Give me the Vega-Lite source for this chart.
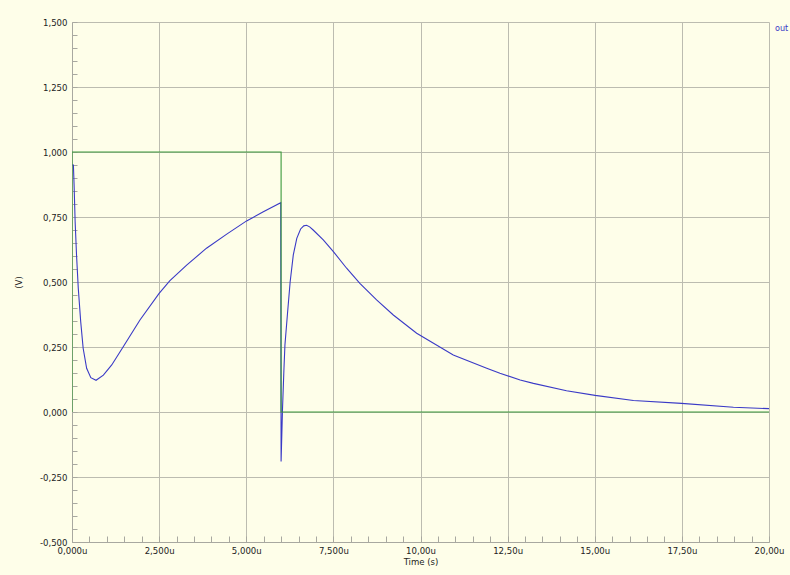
{
  "$schema": "https://vega.github.io/schema/vega-lite/v6.json",
  "width": 697,
  "height": 520,
  "autosize": {"type": "none"},
  "padding": {"left": 72, "top": 22, "right": 21, "bottom": 33},
  "background": "#fefee9",
  "config": {
    "view": {"stroke": null},
    "font": "Liberation Sans Narrow, DejaVu Sans Condensed, Liberation Sans, sans-serif",
    "axis": {
      "domainColor": "#a8a8a0",
      "tickColor": "#a8a8a0",
      "gridColor": "#bcbcb0",
      "gridWidth": 1,
      "labelColor": "#222222",
      "labelFont": "Liberation Sans Narrow, DejaVu Sans Condensed, Liberation Sans, sans-serif",
      "labelFontSize": 9.5,
      "titleFont": "Liberation Sans Narrow, DejaVu Sans Condensed, Liberation Sans, sans-serif",
      "titleFontSize": 9.5,
      "titleFontWeight": "normal",
      "titleColor": "#222222",
      "labelOverlap": false,
      "labelFlush": false,
      "labelBound": false
    }
  },
  "data": {
    "values": [
      {"i": 0, "s": "out", "t": 0.0, "v": 0.95},
      {"i": 1, "s": "out", "t": 0.04, "v": 0.95},
      {"i": 2, "s": "out", "t": 0.06, "v": 0.873},
      {"i": 3, "s": "out", "t": 0.09, "v": 0.732},
      {"i": 4, "s": "out", "t": 0.13, "v": 0.604},
      {"i": 5, "s": "out", "t": 0.18, "v": 0.476},
      {"i": 6, "s": "out", "t": 0.25, "v": 0.347},
      {"i": 7, "s": "out", "t": 0.32, "v": 0.245},
      {"i": 8, "s": "out", "t": 0.42, "v": 0.168},
      {"i": 9, "s": "out", "t": 0.54, "v": 0.132},
      {"i": 10, "s": "out", "t": 0.69, "v": 0.122},
      {"i": 11, "s": "out", "t": 0.9, "v": 0.142},
      {"i": 12, "s": "out", "t": 1.14, "v": 0.181},
      {"i": 13, "s": "out", "t": 1.47, "v": 0.251},
      {"i": 14, "s": "out", "t": 1.95, "v": 0.354},
      {"i": 15, "s": "out", "t": 2.5, "v": 0.456},
      {"i": 16, "s": "out", "t": 2.81, "v": 0.505},
      {"i": 17, "s": "out", "t": 3.29, "v": 0.565},
      {"i": 18, "s": "out", "t": 3.86, "v": 0.63},
      {"i": 19, "s": "out", "t": 4.44, "v": 0.684},
      {"i": 20, "s": "out", "t": 5.01, "v": 0.735},
      {"i": 21, "s": "out", "t": 5.49, "v": 0.77},
      {"i": 22, "s": "out", "t": 5.99, "v": 0.805},
      {"i": 23, "s": "out", "t": 6.0, "v": -0.19},
      {"i": 24, "s": "out", "t": 6.04, "v": 0.01},
      {"i": 25, "s": "out", "t": 6.08, "v": 0.16},
      {"i": 26, "s": "out", "t": 6.11, "v": 0.258},
      {"i": 27, "s": "out", "t": 6.18, "v": 0.373},
      {"i": 28, "s": "out", "t": 6.26, "v": 0.501},
      {"i": 29, "s": "out", "t": 6.35, "v": 0.604},
      {"i": 30, "s": "out", "t": 6.45, "v": 0.668},
      {"i": 31, "s": "out", "t": 6.56, "v": 0.704},
      {"i": 32, "s": "out", "t": 6.65, "v": 0.716},
      {"i": 33, "s": "out", "t": 6.73, "v": 0.718},
      {"i": 34, "s": "out", "t": 6.82, "v": 0.712},
      {"i": 35, "s": "out", "t": 6.92, "v": 0.7},
      {"i": 36, "s": "out", "t": 7.21, "v": 0.662},
      {"i": 37, "s": "out", "t": 7.5, "v": 0.617},
      {"i": 38, "s": "out", "t": 7.88, "v": 0.553},
      {"i": 39, "s": "out", "t": 8.26, "v": 0.495},
      {"i": 40, "s": "out", "t": 8.74, "v": 0.431},
      {"i": 41, "s": "out", "t": 9.22, "v": 0.373},
      {"i": 42, "s": "out", "t": 9.89, "v": 0.303},
      {"i": 43, "s": "out", "t": 10.94, "v": 0.219},
      {"i": 44, "s": "out", "t": 11.9, "v": 0.168},
      {"i": 45, "s": "out", "t": 12.28, "v": 0.149},
      {"i": 46, "s": "out", "t": 12.86, "v": 0.123},
      {"i": 47, "s": "out", "t": 13.24, "v": 0.11},
      {"i": 48, "s": "out", "t": 14.19, "v": 0.082},
      {"i": 49, "s": "out", "t": 15.01, "v": 0.064},
      {"i": 50, "s": "out", "t": 16.11, "v": 0.044},
      {"i": 51, "s": "out", "t": 17.49, "v": 0.033},
      {"i": 52, "s": "out", "t": 18.98, "v": 0.018},
      {"i": 53, "s": "out", "t": 20.0, "v": 0.013},
      {"i": 0, "s": "in", "t": 0.0, "v": 0.0},
      {"i": 1, "s": "in", "t": 0.0, "v": 1.0},
      {"i": 2, "s": "in", "t": 6.0, "v": 1.0},
      {"i": 3, "s": "in", "t": 6.0, "v": 0.0},
      {"i": 4, "s": "in", "t": 20.0, "v": 0.0}
    ]
  },
  "mark": {"type": "line", "strokeWidth": 1.1, "clip": true},
  "encoding": {
    "x": {
      "field": "t",
      "type": "quantitative",
      "scale": {"domain": [0, 20], "nice": false, "zero": false},
      "axis": {
        "title": "Time (s)",
        "values": [0,0.5,1,1.5,2,2.5,3,3.5,4,4.5,5,5.5,6,6.5,7,7.5,8,8.5,9,9.5,10,10.5,11,11.5,12,12.5,13,13.5,14,14.5,15,15.5,16,16.5,17,17.5,18,18.5,19,19.5,20],
        "grid": true,
        "gridOpacity": {"condition": {"test": "abs(datum.value/2.5-round(datum.value/2.5))>0.001", "value": 0}, "value": 1},
        "tickSize": -6,
        "labelPadding": 9,
        "titlePadding": 2,
        "labelExpr": "abs(datum.value/2.5-round(datum.value/2.5))>0.001 ? '' : (datum.value<10 ? replace(format(datum.value,'.3f'),'.',',') : replace(format(datum.value,'.2f'),'.',',')) + 'u'"
      }
    },
    "y": {
      "field": "v",
      "type": "quantitative",
      "scale": {"domain": [-0.5, 1.5], "nice": false, "zero": false},
      "axis": {
        "title": "(V)",
        "values": [-0.5,-0.45,-0.4,-0.35,-0.3,-0.25,-0.2,-0.15,-0.1,-0.05,0,0.05,0.1,0.15,0.2,0.25,0.3,0.35,0.4,0.45,0.5,0.55,0.6,0.65,0.7,0.75,0.8,0.85,0.9,0.95,1,1.05,1.1,1.15,1.2,1.25,1.3,1.35,1.4,1.45,1.5],
        "grid": true,
        "gridOpacity": {"condition": {"test": "abs(datum.value*4-round(datum.value*4))>0.001", "value": 0}, "value": 1},
        "tickSize": -5,
        "labelPadding": 10,
        "titlePadding": 16,
        "labelExpr": "abs(datum.value*4-round(datum.value*4))>0.001 ? '' : replace(replace(format(datum.value,'.3f'),'.',','),'\u2212','-')"
      }
    },
    "color": {
      "field": "s",
      "type": "nominal",
      "scale": {"domain": ["out", "in"], "range": ["#3a3ac6", "#3d9a3d"]},
      "legend": {
        "values": ["out"],
        "title": null,
        "orient": "none",
        "legendX": 694,
        "legendY": 1,
        "padding": 0,
        "symbolSize": 0,
        "symbolStrokeWidth": 0,
        "symbolOpacity": 0,
        "labelOffset": 0,
        "labelColor": "#3a3ac6",
        "labelFont": "Liberation Sans Narrow, DejaVu Sans Condensed, Liberation Sans, sans-serif",
        "labelFontSize": 9
      }
    },
    "order": {"field": "i"}
  }
}
